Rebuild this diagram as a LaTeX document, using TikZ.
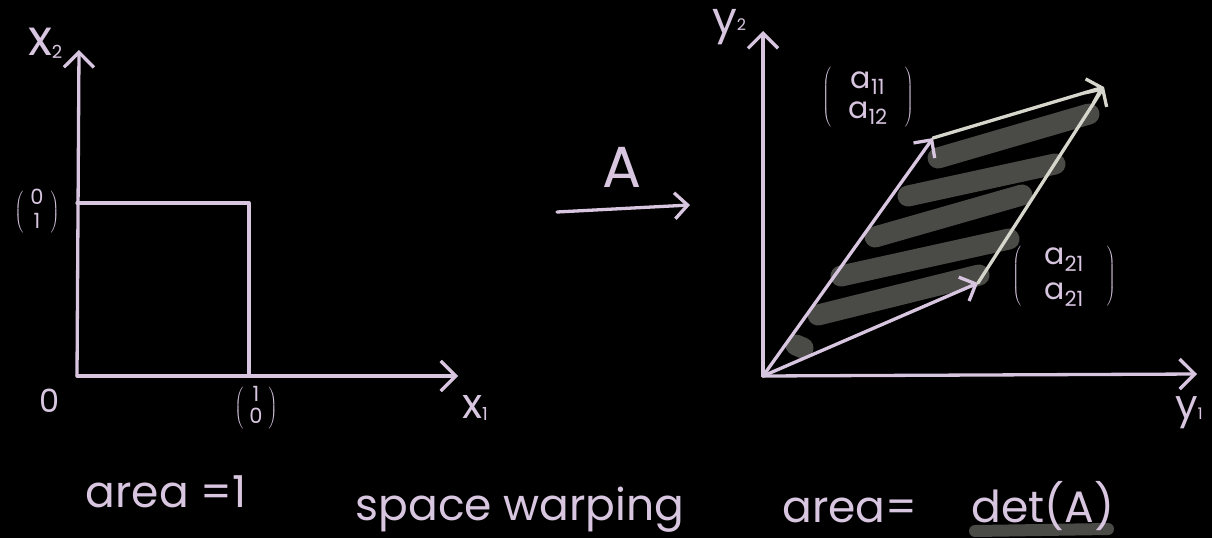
\documentclass[tikz,border=0pt]{standalone}
\usepackage{fontspec}
\setmainfont{Poppins}
\usetikzlibrary{arrows.meta}
\definecolor{lav}{HTML}{D8C6E0}
\definecolor{pale}{HTML}{D6D6CC}
\definecolor{hatch}{HTML}{4A4A46}
% column vector: #1 side padding, #2 extra row gap, #3 top entry, #4 bottom entry
\newcommand{\mycol}[4]{$\left(\begin{array}{@{\hspace{#1}}c@{\hspace{#1}}}\mbox{#3}\\[#2]\mbox{#4}\end{array}\right)$}
\newcommand{\fs}[1]{\fontsize{#1}{#1}\selectfont}
\tikzset{
  axisline/.style={draw=lav, line width=3.3pt, line cap=round, line join=round},
  bigtip/.style={-{Straight Barb[length=15pt,width=30pt,line width=3.3pt]}},
  vectip/.style={-{Straight Barb[length=13pt,width=26pt,line width=3.3pt]}},
  paleline/.style={draw=pale, line width=3.3pt, line cap=round},
  hatchstroke/.style={draw=hatch, line width=21pt, line cap=round},
  lbl/.style={text=lav, inner sep=0pt, outer sep=0pt},
}
\begin{document}
\begin{tikzpicture}[x=1pt,y=-1pt]
\fill[black] (0,0) rectangle (1212,538);
\useasboundingbox (0,0) rectangle (1212,538);

% ---------- left plot ----------
\coordinate (O1) at (77,376);
\coordinate (X2end) at (79,50);
\coordinate (X1end) at (458,376);
\coordinate (P01) at (77,203);
\coordinate (Q) at (249,203);
\coordinate (P10) at (249,376);
\draw[axisline,bigtip] (O1) -- (X2end);
\draw[axisline,bigtip] (O1) -- (X1end);
\draw[axisline] (P01) -- (Q) -- (P10);

\node[lbl, anchor=base west, font=\fs{50}] (lx2) at (28,55) {x\raisebox{-3pt}{\fs{18}2}};
\node[lbl, anchor=base, font=\fs{32}] (l0) at (50,412) {0};
\node[lbl, font=\fs{21}] (c10) at (256,408) {\mycol{6pt}{0pt}{1}{0}};
\node[lbl, font=\fs{21}] (c01) at (37,212) {\mycol{7pt}{3pt}{0}{1}};
\node[lbl, anchor=base west, font=\fs{42}] (lx1) at (462,418) {x\raisebox{-2pt}{\fs{18}1}};
\node[lbl, anchor=base, font=\fs{44}] (larea1) at (166,507) {area =1};

% ---------- middle ----------
\coordinate (Astart) at (557,212);
\coordinate (Aend) at (690,205);
\draw[axisline,vectip] (Astart) -- (Aend);
\node[lbl, anchor=base, font=\fs{58}] (lA) at (622,187) {A};
\node[lbl, anchor=base, font=\fs{44}] (lsw) at (520,520) {space warping};

% ---------- right plot ----------
\coordinate (O2) at (763,376);
\coordinate (Y2end) at (763,31);
\coordinate (Y1end) at (1197,374);
\coordinate (V1) at (933,138);
\coordinate (V2) at (978,283);
\coordinate (V3) at (1104,87);

% hatch strokes
\coordinate (h1a) at (938,158); \coordinate (h1b) at (1089,114);
\coordinate (h2a) at (908,196); \coordinate (h2b) at (1055,164);
\coordinate (h3a) at (875,237); \coordinate (h3b) at (1022,195);
\coordinate (h4a) at (841,276); \coordinate (h4b) at (1009,239);
\coordinate (h5a) at (818,315); \coordinate (h5b) at (979,275);
\coordinate (h6a) at (796,345); \coordinate (h6b) at (803,348);
\draw[hatchstroke] (h1a) -- (h1b);
\draw[hatchstroke] (h2a) -- (h2b);
\draw[hatchstroke] (h3a) -- (h3b);
\draw[hatchstroke] (h4a) -- (h4b);
\draw[hatchstroke] (h5a) -- (h5b);
\draw[hatchstroke] (h6a) -- (h6b);

\draw[axisline,bigtip] (O2) -- (Y2end);
\draw[axisline,bigtip] (O2) -- (Y1end);
\draw[axisline,vectip] (O2) -- (V1);
\draw[axisline,vectip] (O2) -- (V2);
\draw[paleline,vectip] (V1) -- (V3);
\draw[paleline,vectip] (V2) -- (V3);

\node[lbl, anchor=base west, font=\fs{44}] (ly2) at (712,33) {y\raisebox{2pt}{\fs{16}2}};
\node[lbl, anchor=base west, font=\fs{40}] (ly1) at (1175,418) {y\raisebox{-1pt}{\fs{16}1}};
\node[lbl, font=\fs{30}] (ca1) at (868,97) {\mycol{17pt}{0pt}{a\textsubscript{11}}{a\textsubscript{12}}};
\node[lbl, font=\fs{30}] (ca2) at (1064,276) {\mycol{23pt}{5pt}{a\textsubscript{21}}{a\textsubscript{21}}};

\coordinate (u1) at (975,531);
\coordinate (u2) at (1108,529);
\draw[draw=hatch, line width=12pt, line cap=round] (u1) -- (u2);
\node[lbl, anchor=base, font=\fs{44}] (larea2) at (850,522) {area=};
\node[lbl, anchor=base, font=\fs{44}] (ldet) at (1043,522) {det(A)};
\end{tikzpicture}
\end{document}
